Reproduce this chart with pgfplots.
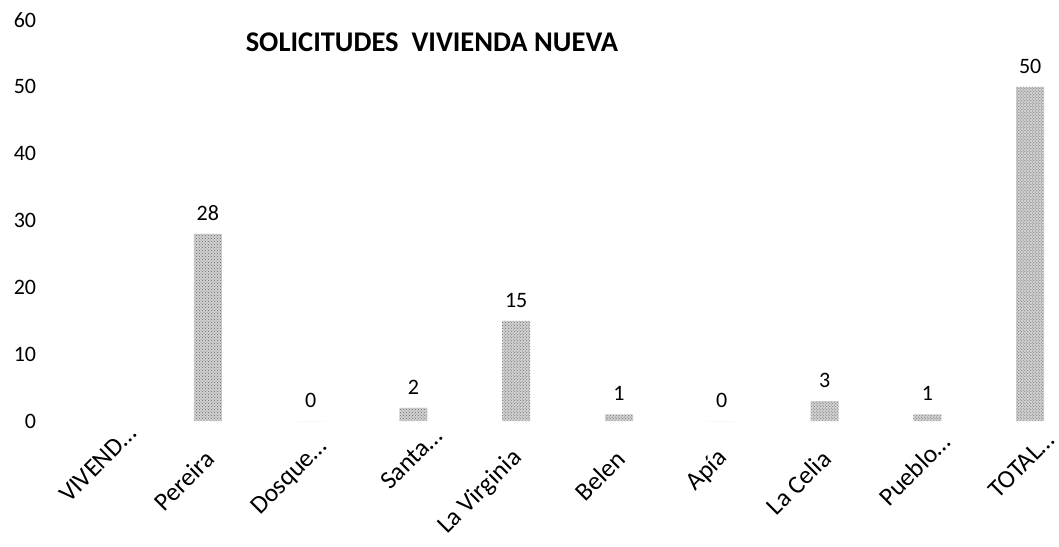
\documentclass[border=0pt]{standalone}
\usepackage{pgfplots}
\pgfplotsset{compat=1.18}
\usepackage{fontspec}
\setmainfont{Carlito}
\usetikzlibrary{patterns}
\begin{document}
\begin{tikzpicture}
\begin{axis}[
  scale only axis,
  width=1005pt, height=401pt,
  xmin=-0.5, xmax=9.28,
  ymin=0, ymax=60,
  clip=false,
  axis line style={draw=none},
  tick style={draw=none},
  ytick={0,10,20,30,40,50,60},
  xtick={0,1,2,3,4,5,6,7,8,9},
  xticklabels={VIVEND…\hspace*{-36pt}, Pereira, Dosque…\hspace*{-16pt}, Santa…\hspace*{-32pt}, La Virginia, Belen, Apía, La Celia, Pueblo…\hspace*{-24pt}, TOTAL…\hspace*{-26pt}},
  /pgf/number format/assume math mode=true,
  y tick label style={font=\fontsize{22}{24}\selectfont, xshift=-14pt},
  x tick label style={font=\fontsize{25.5}{27}\selectfont, inner sep=0pt, xshift=2pt, yshift=-29pt, rotate=45, anchor=east},
  ybar, bar width=28pt,
  nodes near coords,
  every node near coord/.append style={font=\fontsize{22}{24}\selectfont, yshift=10pt, black},
]
\addplot[fill=black!18, draw=none, postaction={pattern=crosshatch dots, pattern color=black!60}]
  coordinates {(1,28) (2,0) (3,2) (4,15) (5,1) (6,0) (7,3) (8,1) (9,50)};
\node[font=\fontsize{28.5}{30}\selectfont\bfseries] at (axis cs:3.18,56.6) {SOLICITUDES\ \ VIVIENDA NUEVA};
\path (rel axis cs:0,0) ++(-53.6pt,-125pt) coordinate (bl);
\path (rel axis cs:0,1) ++(-53.6pt,20pt) coordinate (tl);
\path (bl) -- (tl);
\end{axis}
\end{tikzpicture}
\end{document}
